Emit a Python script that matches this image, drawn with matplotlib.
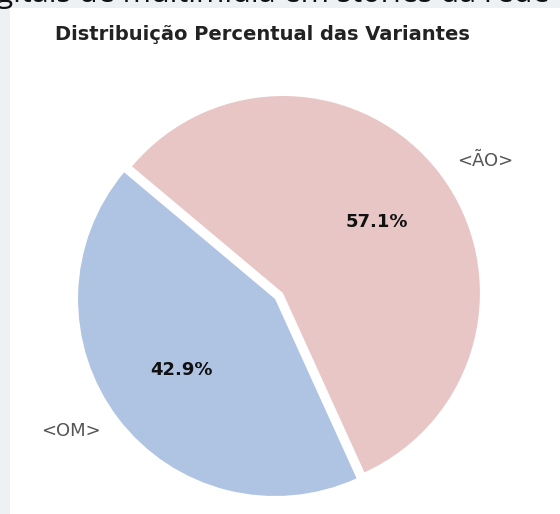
import matplotlib
matplotlib.use("Agg")
import matplotlib.pyplot as plt
from matplotlib.patches import Rectangle

labels = ["<OM>", "<ÃO>"]
values = [42.9, 57.1]
colors = ["#afc3e3", "#e9c6c6"]
title = "Distribuição Percentual das Variantes"
header = "digitais de multimídia em stories da rede"

W, H = 560, 514
fig = plt.figure(figsize=(W / 100, H / 100), dpi=100, facecolor="#eef1f4")

# white panel
fig.patches.append(Rectangle((10 / W, 0), 1 - 10 / W, (H - 8) / H,
                             transform=fig.transFigure, facecolor="white",
                             edgecolor="none", zorder=-5))

# cropped header text from the page above
fig.text(-30 / W, 1 - 2 / H, header, fontsize=22, family="Open Sans",
         color="#111111", ha="left", va="baseline")

R = 197.0
cx, cy = 279.0, 296.0  # pixel centre (from top)
ax = fig.add_axes([0, 0, 1, 1])
ax.set_zorder(1)
ax.patch.set_visible(False)
ax.pie(values, labels=labels, colors=colors, startangle=140,
       explode=[0.025, 0.025], autopct="%1.1f%%", labeldistance=1.11,
       pctdistance=0.6,
       textprops=dict(fontsize=13, color="#555555"))
for t in ax.texts:
    if "%" in t.get_text():
        t.set_color("#111111")
        t.set_fontweight("bold")
        t.set_fontsize(13)
ax.set_xlim(-cx / R, (W - cx) / R)
ax.set_ylim(-(H - cy) / R, cy / R)
ax.set_aspect("auto")
ax.axis("off")

fig.text(262 / W, 1 - 35 / H, title, fontsize=14, fontweight="bold",
         color="#222222", ha="center", va="center")

fig.savefig("out.png", dpi=100, facecolor=fig.get_facecolor())
